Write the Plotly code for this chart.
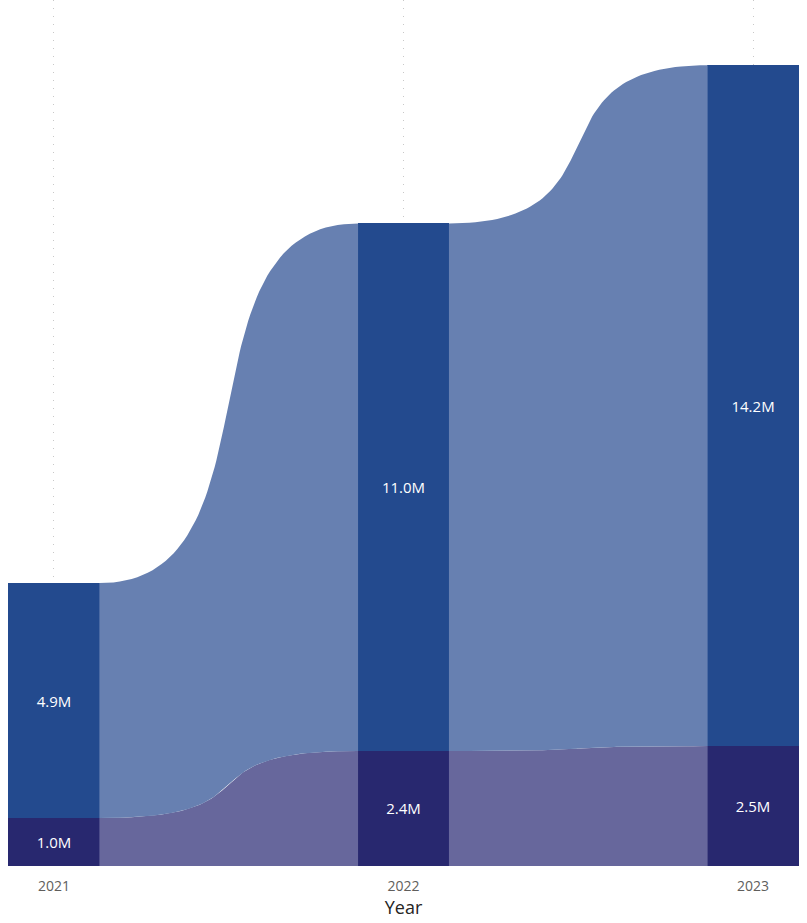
import numpy as np
import plotly.graph_objects as go

# Data
years = ["2021", "2022", "2023"]
lower_vals = [1.0, 2.4, 2.5]     # millions, bottom segment
upper_vals = [4.9, 11.0, 14.2]   # millions, top segment

# Styling
BAR_W = 0.263
CTRL = 0.72          # horizontal position of bezier control points (fraction of gap)
TUCK = 0.0015        # tiny overlap of ribbon ends with the bars to hide seams
UPPER_BAR = "#234A8E"
LOWER_BAR = "#28286F"
UPPER_RIBBON = "#6780B1"
LOWER_RIBBON = "#67679C"
FONT = "Open Sans, DejaVu Sans, sans-serif"

xs = list(range(len(years)))
lower_top = lower_vals
upper_top = [a + b for a, b in zip(lower_vals, upper_vals)]


def sigmoid_edge(x0, x1, y0, y1, n=80):
    """Cubic bezier edge with flat tangents at both ends."""
    t = np.linspace(0, 1, n)
    c0 = x0 + CTRL * (x1 - x0)
    c1 = x1 - CTRL * (x1 - x0)
    bx = (1 - t) ** 3 * x0 + 3 * (1 - t) ** 2 * t * c0 + 3 * (1 - t) * t ** 2 * c1 + t ** 3 * x1
    by = (1 - t) ** 3 * y0 + 3 * (1 - t) ** 2 * t * y0 + 3 * (1 - t) * t ** 2 * y1 + t ** 3 * y1
    return bx, by


def ribbon(x0, x1, bot0, bot1, top0, top1, color):
    tx, ty = sigmoid_edge(x0, x1, top0, top1)
    bx, by = sigmoid_edge(x0, x1, bot0, bot1)
    px = np.concatenate([[x0 - TUCK], tx, [x1 + TUCK, x1 + TUCK], bx[::-1], [x0 - TUCK]])
    py = np.concatenate([[top0], ty, [top1, bot1], by[::-1], [bot0]])
    return go.Scatter(x=px, y=py, fill="toself", fillcolor=color, mode="lines",
                      line=dict(width=0, color=color), hoverinfo="skip", showlegend=False)


fig = go.Figure()

# Ribbons between consecutive bars
for i in range(len(years) - 1):
    x0 = xs[i] + BAR_W / 2
    x1 = xs[i + 1] - BAR_W / 2
    fig.add_trace(ribbon(x0, x1, 0, 0, lower_top[i], lower_top[i + 1], LOWER_RIBBON))
    fig.add_trace(ribbon(x0, x1, lower_top[i], lower_top[i + 1],
                         upper_top[i], upper_top[i + 1], UPPER_RIBBON))

# Stacked bars
label_font = dict(color="white", size=15, family=FONT)
fig.add_trace(go.Bar(
    x=xs, y=lower_vals, width=BAR_W, marker=dict(color=LOWER_BAR, line=dict(width=0)),
    text=[f"{v:.1f}M" for v in lower_vals], textposition="inside", insidetextanchor="middle",
    textfont=label_font, showlegend=False, hoverinfo="skip"))
fig.add_trace(go.Bar(
    x=xs, y=upper_vals, width=BAR_W, marker=dict(color=UPPER_BAR, line=dict(width=0)),
    text=[f"{v:.1f}M" for v in upper_vals], textposition="inside", insidetextanchor="middle",
    textfont=label_font, showlegend=False, hoverinfo="skip"))

fig.update_layout(
    barmode="stack",
    width=807, height=923,
    margin=dict(l=8, r=8, t=0, b=57),
    plot_bgcolor="white", paper_bgcolor="white",
    font=dict(family=FONT),
    xaxis=dict(
        range=[-BAR_W / 2, 2 + BAR_W / 2],
        tickvals=xs, ticktext=years,
        tickfont=dict(size=14, color="#605E5C"),
        showgrid=True, gridcolor="#C8C8C8", griddash="1px,7px", gridwidth=1,
        zeroline=False, showline=False,
        ticks="outside", ticklen=7, tickcolor="rgba(0,0,0,0)",
        title=dict(text="Year", font=dict(size=18, color="#252423"), standoff=3),
        automargin=False,
        fixedrange=True,
    ),
    yaxis=dict(range=[0, 18.06], visible=False, showgrid=False, zeroline=False, fixedrange=True),
    uniformtext=dict(minsize=10, mode="show"),
)

fig.write_html("out.html")
